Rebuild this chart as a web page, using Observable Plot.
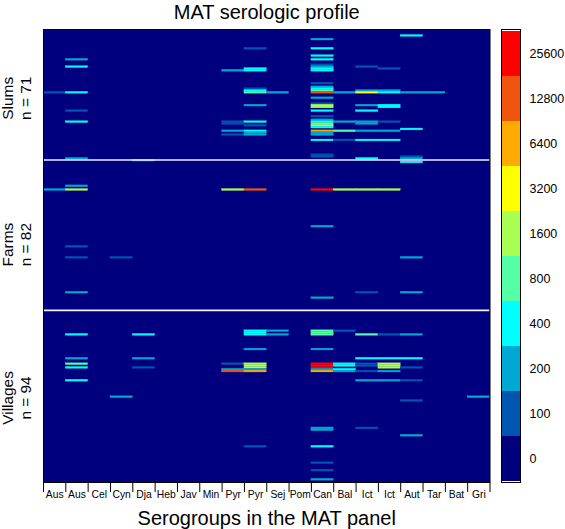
<!DOCTYPE html>
<html>
<head>
<meta charset="utf-8">
<script src="https://cdn.jsdelivr.net/npm/d3@7"></script>
<script src="https://cdn.jsdelivr.net/npm/@observablehq/plot@0.6"></script>
<style>
html,body{margin:0;padding:0;background:#fff}
#wrap{position:relative;width:565px;height:529px;font-family:"Liberation Sans",Helvetica,Arial,sans-serif}
#wrap svg{position:absolute;top:0;background:transparent;overflow:visible}
</style>
</head>
<body>
<div id="wrap"></div>
<script>
const serogroups = ["Aus","Aus","Cel","Cyn","Dja","Heb","Jav","Min","Pyr","Pyr","Sej","Pom","Can","Bal","Ict","Ict","Aut","Tar","Bat","Gri"];
const titers = [0,100,200,400,800,1600,3200,6400,12800,25600];
const titerColors = ["#00007f","#0055b0","#00a8d4","#00ffff","#55ffa8","#aaff55","#ffff00","#ffaa00","#f05510","#ff0000"];
const panelNames = ["Slums","Farms","Villages"];
const panelSizes = [71,82,94];

// [serogroup column, animal row within the panel, MAT titer]
const slums = [
[0,34,100],
[1,16,200],[1,20,400],[1,34,400],[1,44,100],[1,50,400],[1,70,200],
[8,22,200],[8,50,100],[8,51,100],[8,55,200],[8,57,100],
[9,10,100],[9,21,400],[9,22,400],[9,32,100],[9,33,400],[9,34,800],[9,41,200],[9,50,400],[9,52,100],[9,55,400],[9,56,200],[9,57,200],
[10,34,200],
[12,5,200],[12,10,400],[12,14,400],[12,16,400],[12,19,100],[12,20,200],[12,21,400],[12,22,400],[12,29,100],[12,31,200],[12,32,400],[12,33,800],[12,34,12800],[12,37,200],[12,40,100],[12,41,1600],[12,42,1600],[12,44,400],[12,47,100],[12,49,200],[12,50,400],[12,51,800],[12,52,1600],[12,53,400],[12,55,6400],[12,56,200],[12,57,200],[12,60,400],[12,68,100],[12,69,100],
[13,34,200],[13,50,200],[13,55,800],[13,60,100],
[14,20,100],[14,33,200],[14,34,3200],[14,41,200],[14,44,400],[14,50,200],[14,51,200],[14,55,200],[14,60,400],[14,70,400],
[15,21,100],[15,33,200],[15,34,400],[15,41,400],[15,42,400],[15,50,100],[15,55,200],[15,60,400],
[16,3,400],[16,34,200],[16,54,400],[16,69,100],[16,70,200],
[17,34,200]
];
const farms = [
[0,16,200],
[1,14,200],[1,16,1600],[1,47,100],[1,53,100],[1,72,200],
[3,53,100],
[4,0,200],
[8,16,1600],
[9,16,12800],
[12,16,25600],[12,36,200],[12,75,200],
[13,16,1600],
[14,16,1600],[14,72,100],
[15,16,1600],
[16,1,400],[16,53,200],[16,72,200]
];
const villages = [
[1,13,400],[1,26,200],[1,29,800],[1,31,400],[1,38,400],
[3,47,200],
[4,13,400],[4,26,200],[4,31,100],
[8,29,100],[8,32,200],[8,33,12800],
[9,11,400],[9,12,400],[9,13,400],[9,21,200],[9,29,1600],[9,30,1600],[9,31,1600],[9,32,200],[9,33,6400],[9,74,100],
[10,11,200],[10,13,200],
[12,11,800],[12,12,800],[12,13,800],[12,21,200],[12,29,25600],[12,30,25600],[12,31,25600],[12,32,200],[12,33,6400],[12,64,200],[12,65,200],[12,74,400],[12,83,100],[12,87,100],[12,92,200],
[13,11,100],[13,29,400],[13,30,400],[13,32,400],[13,33,200],
[14,13,800],[14,26,400],[14,29,100],[14,30,100],[14,33,100],[14,38,200],[14,64,100],
[15,13,100],[15,26,400],[15,29,1600],[15,30,1600],[15,31,1600],[15,33,200],[15,38,200],
[16,13,200],[16,26,400],[16,31,100],[16,38,100],[16,49,100],[16,68,200],
[19,47,200]
];

const offsets = [0, panelSizes[0], panelSizes[0] + panelSizes[1]];
const totalRows = d3.sum(panelSizes);
const cells = [slums, farms, villages].flatMap((panel, p) =>
  panel.map(([col, row, titer]) => ({col, row: row + offsets[p], titer})));
// the side labels sit a little below each panel's centre in the original
const labelRows = [37.5, 117.3, 200.9];
const panels = panelNames.map((name, p) => ({name, n: panelSizes[p], at: labelRows[p]}));
const colorScale = {type: "ordinal", domain: titers, range: titerColors};

const main = Plot.plot({
  width: 565, height: 529,
  marginLeft: 43, marginRight: 75.5, marginTop: 29, marginBottom: 47,
  style: {fontFamily: '"Liberation Sans",Helvetica,Arial,sans-serif', background: "transparent", color: "#000"},
  x: {domain: [0, serogroups.length]},
  y: {domain: [0, totalRows], reverse: true},
  color: colorScale,
  marks: [
    Plot.frame({fill: titerColors[0], stroke: "none"}),
    Plot.rect(cells, {x1: "col", x2: d => d.col + 1, y1: "row", y2: d => d.row + 1, fill: "titer", stroke: "titer", strokeWidth: 0.3, imageFilter: "blur(0.45px)"}),
    Plot.ruleY(offsets.slice(1), {stroke: "#f0f0ff", strokeWidth: 1.6, dy: 0.3}),
    Plot.frame({stroke: "#000", strokeWidth: 1}),
    Plot.axisX({ticks: d3.range(serogroups.length + 1), tickSize: 10, text: null, label: null}),
    Plot.axisX({ticks: serogroups.map((_, i) => i + 0.5), tickFormat: v => serogroups[Math.floor(v)], tickSize: 0, tickPadding: 8.5, fontSize: 10.3, label: null}),
    Plot.axisY({ticks: [], label: null, tickSize: 0}),
    Plot.text(panels, {text: "name", y: "at", frameAnchor: "left", textAnchor: "middle", dx: -35.5, rotate: -90, fontSize: 15.4}),
    Plot.text(panels, {text: d => `n = ${d.n}`, y: "at", frameAnchor: "left", textAnchor: "middle", dx: -17, rotate: -90, fontSize: 15.4}),
    Plot.text(["MAT serologic profile"], {frameAnchor: "top", dy: -25, fontSize: 20}),
    Plot.text(["Serogroups in the MAT panel"], {frameAnchor: "bottom", dy: 42, fontSize: 20})
  ]
});

const legend = Plot.plot({
  width: 65, height: 529,
  marginLeft: 1, marginRight: 45, marginTop: 29, marginBottom: 47,
  style: {fontFamily: '"Liberation Sans",Helvetica,Arial,sans-serif', background: "transparent", color: "#000"},
  x: {axis: null},
  y: {type: "band", domain: titers.slice().reverse(), padding: 0},
  color: colorScale,
  marks: [
    Plot.cell(titers, {y: d => d, fill: d => d}),
    Plot.frame({stroke: "#000", strokeWidth: 1}),
    Plot.axisY({anchor: "right", tickSize: 0, tickPadding: 9, fontSize: 12.5, label: null, tickFormat: d => String(d)})
  ]
});

const wrap = document.getElementById("wrap");
main.style.left = "0px";
legend.style.left = "500px";
wrap.append(main, legend);
</script>
</body>
</html>
